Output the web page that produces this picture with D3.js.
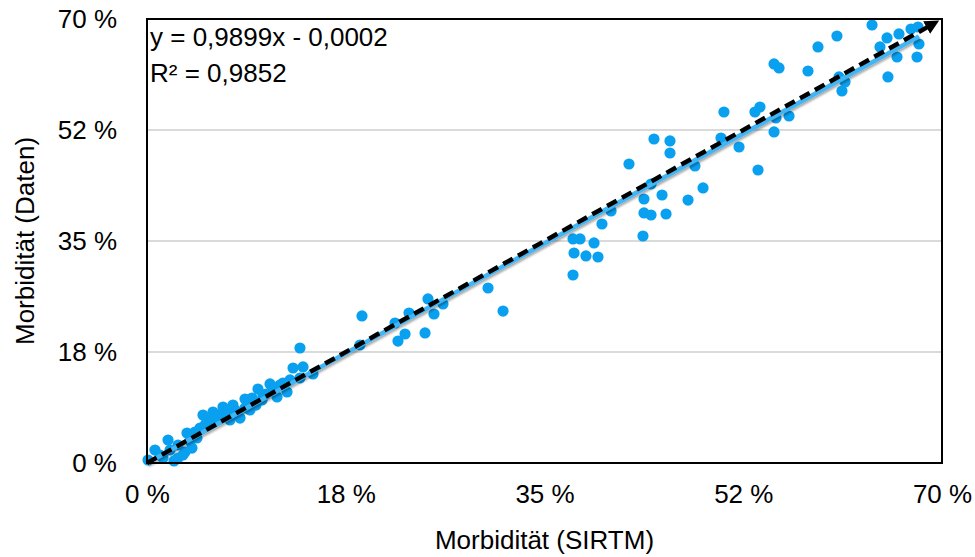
<!DOCTYPE html>
<html>
<head>
<meta charset="utf-8">
<script src="https://cdn.jsdelivr.net/npm/d3@7"></script>
<style>
  body { margin: 0; background: #fff; }
  text { font-family: "Liberation Sans", Arial, Helvetica, sans-serif; fill: #000; }
</style>
</head>
<body>
<script>
// model (SIRTM) values in percent
const sirtm = [63.84, 60.75, 59.08, 64.54, 65.16, 66.21, 67.27, 67.89, 67.97, 67.80,
  66.04, 65.24, 55.21, 55.65, 58.20, 60.93, 61.46, 61.19, 50.80, 53.53,
  53.97, 55.38, 56.53, 55.21, 50.54, 52.13, 53.80, 44.64, 46.05, 46.05,
  42.44, 48.25, 44.38, 43.76, 45.35, 48.96, 47.64, 43.76, 44.38, 45.70,
  43.67, 40.06, 40.86, 38.13, 39.36, 38.65, 39.71, 37.51, 37.60, 37.51,
  30.03, 31.35, 24.74, 25.27, 26.06, 23.07, 22.72, 24.48, 18.93, 21.84,
  22.10, 18.75, 13.47, 12.86, 13.74, 14.62, 13.47, 11.97, 10.83, 9.77,
  12.33, 8.63, 8.81, 7.57, 6.69, 5.81, 4.93, 8.19, 7.31, 6.43,
  11.45, 5.28, 6.16, 7.04, 3.52, 3.96, 3.17, 2.03, 1.85, 0.70,
  0.09, 2.38, 1.14, 2.73, 4.40, 3.79, 1.41, 4.67, 9.07, 9.60,
  10.13, 10.48, 4.23, 5.11, 5.72, 7.75, 8.63, 9.25, 10.21, 11.09,
  11.71, 12.59, 2.73, 3.35]
// observed values in percent
const daten = [69.06, 67.32, 65.59, 65.59, 67.01, 67.64, 68.42, 68.74, 66.06, 64.01,
  64.01, 60.86, 62.91, 62.28, 61.80, 60.86, 60.07, 58.65, 55.34, 55.34,
  56.13, 54.39, 54.71, 52.19, 51.24, 49.82, 46.19, 51.08, 50.77, 48.87,
  47.14, 46.83, 43.99, 41.62, 42.25, 43.36, 41.46, 39.42, 39.10, 39.26,
  35.79, 37.68, 39.73, 35.32, 34.69, 32.64, 32.48, 35.32, 33.11, 29.64,
  27.59, 23.96, 25.86, 23.49, 25.07, 23.65, 20.34, 20.50, 23.18, 22.07,
  19.23, 18.60, 18.13, 14.98, 15.14, 14.03, 13.40, 12.61, 12.46, 11.67,
  11.19, 10.09, 9.93, 9.14, 8.83, 8.04, 7.57, 7.09, 6.78, 7.25,
  10.41, 6.78, 7.57, 7.88, 4.73, 2.36, 1.26, 2.05, 3.63, 2.05,
  0.47, 0.32, 1.26, 2.84, 3.94, 3.47, 0.79, 5.52, 8.36, 9.14,
  9.93, 10.88, 4.89, 5.99, 6.78, 8.36, 8.67, 10.25, 10.72, 11.67,
  12.30, 13.09, 0.79, 1.73]

const tickValues = [0, 17.5, 35, 52.5, 70]
const tickLabels = ['0 %', '18 %', '35 %', '52 %', '70 %']

// trendline y = 0,9899x - 0,0002 (in fractions)
const slope = 0.9899
const intercept = -0.0002

const w = 975
const h = 557
const pL = 147, pR = 942, pT = 19, pB = 463
const fontSize = '26px'

const xScale = d3.scaleLinear().domain([0, 70]).range([pL, pR])
const yScale = d3.scaleLinear().domain([0, 70]).range([pB, pT])

const svg = d3.select('body').append('svg')
  .attr('width', w)
  .attr('height', h)

const defs = svg.append('defs')
defs.append('marker')
  .attr('id', 'arrow')
  .attr('viewBox', '0 0 10 10')
  .attr('refX', 5)
  .attr('refY', 5)
  .attr('markerWidth', 3.2)
  .attr('markerHeight', 3.2)
  .attr('orient', 'auto')
  .append('path')
  .attr('d', 'M0,0 L10,5 L0,10 z')
  .attr('fill', '#000')

const shadow = defs.append('filter').attr('id', 'shadow')
  .attr('x', '-5%').attr('y', '-5%').attr('width', '110%').attr('height', '110%')
shadow.append('feDropShadow')
  .attr('dx', 1).attr('dy', 2).attr('stdDeviation', 1.2)
  .attr('flood-color', '#000').attr('flood-opacity', 0.35)

// horizontal gridlines
svg.append('g')
  .selectAll('line')
  .data(tickValues.slice(1, -1))
  .enter()
  .append('line')
  .attr('x1', pL)
  .attr('x2', pR)
  .attr('y1', d => yScale(d))
  .attr('y2', d => yScale(d))
  .attr('stroke', '#b5b5b5')
  .attr('stroke-width', 1.2)

// x axis labels
const xAxis = d3.axisBottom(xScale)
  .tickValues(tickValues)
  .tickFormat((d, i) => tickLabels[i])
  .tickSize(0)
  .tickPadding(22)
svg.append('g')
  .attr('transform', `translate(0,${pB})`)
  .call(xAxis)
  .call(g => g.select('.domain').remove())
  .selectAll('text')
  .style('font-size', fontSize)

// y axis labels
const yAxis = d3.axisLeft(yScale)
  .tickValues(tickValues)
  .tickFormat((d, i) => tickLabels[i])
  .tickSize(0)
  .tickPadding(30)
svg.append('g')
  .attr('transform', `translate(${pL},0)`)
  .call(yAxis)
  .call(g => g.select('.domain').remove())
  .selectAll('text')
  .style('font-size', fontSize)

// points
svg.append('g')
  .selectAll('circle')
  .data(sirtm)
  .enter()
  .append('circle')
  .attr('cx', d => xScale(d))
  .attr('cy', (d, i) => yScale(daten[i]))
  .attr('r', 5.6)
  .attr('fill', '#0aa0f0')

// trendline
const xMax = d3.max(sirtm)
svg.append('line')
  .attr('x1', xScale(0))
  .attr('y1', yScale(intercept * 100))
  .attr('x2', xScale(xMax))
  .attr('y2', yScale((slope * xMax / 100 + intercept) * 100))
  .attr('stroke', '#42b6f4')
  .attr('stroke-width', 4.5)
  .attr('filter', 'url(#shadow)')

// y = x reference line
svg.append('line')
  .attr('x1', xScale(0))
  .attr('y1', yScale(0))
  .attr('x2', xScale(69.2))
  .attr('y2', yScale(69.2))
  .attr('stroke', '#000')
  .attr('stroke-width', 4.5)
  .attr('stroke-dasharray', '11,6')
  .attr('marker-end', 'url(#arrow)')

// frame
svg.append('rect')
  .attr('x', pL)
  .attr('y', pT)
  .attr('width', pR - pL)
  .attr('height', pB - pT)
  .attr('fill', 'none')
  .attr('stroke', '#000')
  .attr('stroke-width', 2)

// equation
svg.append('text')
  .attr('x', pL + 3)
  .attr('y', 46)
  .style('font-size', fontSize)
  .text('y = 0,9899x - 0,0002')
svg.append('text')
  .attr('x', pL + 3)
  .attr('y', 82)
  .style('font-size', fontSize)
  .text('R² = 0,9852')

// axis titles
svg.append('text')
  .attr('x', (pL + pR) / 2)
  .attr('y', 549)
  .attr('text-anchor', 'middle')
  .style('font-size', fontSize)
  .text('Morbidität (SIRTM)')

svg.append('text')
  .attr('transform', `translate(34,${(pT + pB) / 2}) rotate(-90)`)
  .attr('text-anchor', 'middle')
  .style('font-size', fontSize)
  .text('Morbidität (Daten)')
</script>
</body>
</html>
